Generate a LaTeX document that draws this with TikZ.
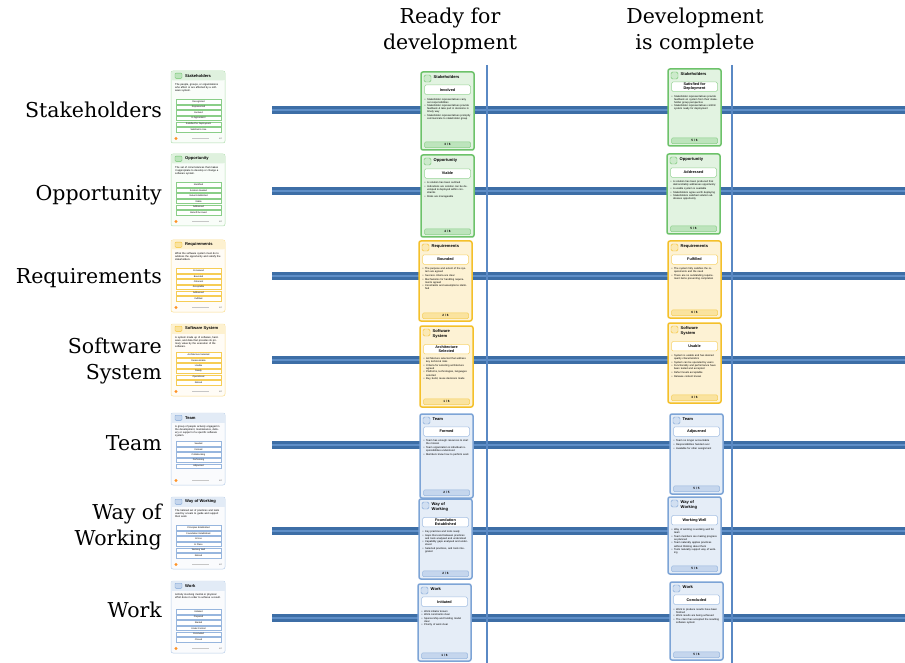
\documentclass[tikz,border=0pt]{standalone}
\usepackage{fontspec}
\setsansfont{Liberation Sans}
\newfontfamily\labelfont{DejaVu Serif}
\usetikzlibrary{positioning}

\definecolor{cgreen}{HTML}{6DC26A}
\definecolor{cyellow}{HTML}{F4C02A}
\definecolor{cblue}{HTML}{7DA4D6}
\definecolor{barblue}{HTML}{3D6EA6}
\definecolor{barlight}{HTML}{5F8FC8}
\definecolor{lineblue}{HTML}{5A89C4}

\newcommand{\bul}[1]{\par\hangindent=2.6pt\hangafter=1\makebox[2.6pt][l]{\textbullet}#1\par\vspace{0.5pt}}

\tikzset{
  rowlabel/.style={anchor=east, align=right, inner sep=0pt, font=\labelfont\fontsize{20.5}{26.5}\selectfont},
  colhead/.style={align=center, inner sep=0pt, font=\labelfont\fontsize{20.5}{26.5}\selectfont},
  bar/.style={draw=barblue, line width=8pt},
  barmid/.style={draw=barlight, line width=2.2pt},
  divider/.style={draw=lineblue, line width=1.3pt},
  cardtitle/.style={inner sep=0pt, align=left, font=\sffamily\bfseries\fontsize{4.1}{4.7}\selectfont},
  carddesc/.style={inner sep=0pt, align=left, text width=46pt, font=\sffamily\fontsize{2.6}{3.1}\selectfont},
  statebox/.style={inner sep=0pt, minimum width=45pt, minimum height=4.4pt, fill=white, line width=0.35pt, font=\sffamily\fontsize{2.3}{2.6}\selectfont},
  statename/.style={inner sep=0.8pt, minimum width=46pt, minimum height=9.5pt, fill=white, align=center, rounded corners=1.5pt, line width=0.5pt, font=\sffamily\bfseries\fontsize{3.8}{4.3}\selectfont},
  bullets/.style={inner sep=0pt, align=left, text width=46pt, font=\sffamily\fontsize{2.6}{3.1}\selectfont},
  progress/.style={inner sep=0pt, minimum width=46pt, minimum height=5.8pt, rounded corners=1.2pt, line width=0.5pt, font=\sffamily\bfseries\fontsize{3.1}{3.4}\selectfont},
  pageno/.style={inner sep=0pt, font=\sffamily\fontsize{1.8}{2}\selectfont}
}

% alpha card: name, x, y, colour, title, description, states
\newcommand{\alphacard}[7]{%
  \begin{scope}[shift={(#2,#3)}]
    \draw[draw=#4!55, fill=#4!4, rounded corners=2pt, line width=0.5pt] (0,0) rectangle (54,72);
    \fill[#4!22, rounded corners=2pt] (0.25,0.25) rectangle (53.75,9.5);
    \fill[#4!22] (0.25,5) rectangle (53.75,9.5);
    \draw[draw=#4, fill=#4!45, rounded corners=1pt, line width=0.4pt] (4,2.2) rectangle (11,7.4);
    \node[cardtitle, anchor=west] (#1-title) at (14,4.9) {#5};
    \node[carddesc, anchor=north west] (#1-desc) at (4,12) {#6};
    \foreach \s [count=\i] in {#7} {
      \node[statebox, draw=#4!80] (#1-s\i) at (27.5,25+5.6*\i) {\s};
    }
    \fill[orange!85] (5,67.5) circle (1.6);
    \draw[gray!45, line width=0.3pt] (21,67.5) -- (38,67.5);
    \node[pageno, anchor=east] (#1-page) at (51,67.5) {1/7};
  \end{scope}}

% state card: name, x, y, height, colour, alpha, state, bullets, progress
\newcommand{\statecard}[9]{%
  \begin{scope}[shift={(#2,#3)}]
    \draw[draw=#5, fill=#5!20, rounded corners=2pt, line width=1.5pt] (0,0) rectangle (53,#4);
    \draw[draw=#5, fill=#5!35, rounded corners=1.5pt, line width=0.4pt] (3,3) rectangle (10,10);
    \node[cardtitle, anchor=north west] (#1-title) at (12.5,3.8) {#6};
    \coordinate (#1-mid) at (26.5,0);
    \node[statename, draw=#5!70, anchor=north] (#1-state) at ([yshift=-5.5pt]#1-title.south -| #1-mid) {#7};
    \node[bullets, anchor=north] (#1-list) at ([yshift=-2pt]#1-state.south) {#8};
    \node[progress, draw=#5!80, fill=#5!45] (#1-prog) at (26.5,#4-5.2) {#9};
  \end{scope}}

\begin{document}
\begin{tikzpicture}[x=1pt,y=-1pt]
  \useasboundingbox (0,0) rectangle (905,663);

  % column heads
  \node[colhead] (hd-ready) at (450,31) {Ready for\\development};
  \node[colhead] (hd-done) at (695,31) {Development\\is complete};

  % timelines
  \foreach \y in {110,191,276,360,445,531,618} {
    \draw[bar] (272,\y) -- (905,\y);
    \draw[barmid] (272,\y) -- (905,\y);
  }
  \draw[divider] (487,65) -- (487,663);
  \draw[divider] (732,65) -- (732,663);

  % row labels
  \node[rowlabel] (lab-stk) at (162,110) {Stakeholders};
  \node[rowlabel] (lab-opp) at (162,195) {Opportunity};
  \node[rowlabel] (lab-req) at (162,278) {Requirements};
  \node[rowlabel] (lab-sys) at (162,361) {Software\\System};
  \node[rowlabel] (lab-team) at (162,443) {Team};
  \node[rowlabel] (lab-wow) at (162,527) {Way of\\Working};
  \node[rowlabel] (lab-work) at (162,610) {Work};

  % alpha cards
  \alphacard{a-stk}{171}{71}{cgreen}{Stakeholders}
    {The people, groups, or organizations who affect or are affected by a software system.}
    {Recognized,Represented,Involved,In Agreement,Satisfied for Deployment,Satisfied in Use}
  \alphacard{a-opp}{171}{154}{cgreen}{Opportunity}
    {The set of circumstances that makes it appropriate to develop or change a software system.}
    {Identified,Solution Needed,Value Established,Viable,Addressed,Benefit Accrued}
  \alphacard{a-req}{171}{240}{cyellow}{Requirements}
    {What the software system must do to address the opportunity and satisfy the stakeholders.}
    {Conceived,Bounded,Coherent,Acceptable,Addressed,Fulfilled}
  \alphacard{a-sys}{171}{324}{cyellow}{Software System}
    {A system made up of software, hardware, and data that provides its primary value by the execution of the software.}
    {Architecture Selected,Demonstrable,Usable,Ready,Operational,Retired}
  \alphacard{a-team}{171}{413}{cblue}{Team}
    {A group of people actively engaged in the development, maintenance, delivery or support of a specific software system.}
    {Seeded,Formed,Collaborating,Performing,Adjourned}
  \alphacard{a-wow}{171}{497}{cblue}{Way of Working}
    {The tailored set of practices and tools used by a team to guide and support their work.}
    {Principles Established,Foundation Established,In Use,In Place,Working Well,Retired}
  \alphacard{a-work}{171}{581}{cblue}{Work}
    {Activity involving mental or physical effort done in order to achieve a result.}
    {Initiated,Prepared,Started,Under Control,Concluded,Closed}

  % ready for development
  \statecard{r-stk}{421}{72}{78}{cgreen}{Stakeholders}{Involved}
    {\bul{Stakeholder representatives carry out responsibilities}\bul{Stakeholder representatives provide feedback \& take part in decisions in timely way}\bul{Stakeholder representatives promptly communicate to stakeholder group}}{3 / 6}
  \statecard{r-opp}{421}{155}{82}{cgreen}{Opportunity}{Viable}
    {\bul{A solution has been outlined}\bul{Indications are solution can be developed \& deployed within constraints}\bul{Risks are manageable}}{4 / 6}
  \statecard{r-req}{419}{241}{80}{cyellow}{Requirements}{Bounded}
    {\bul{The purpose and extent of the system are agreed}\bul{Success criteria are clear}\bul{Mechanisms for handling requirements agreed}\bul{Constraints and assumptions identified}}{2 / 6}
  \statecard{r-sys}{420}{326}{81}{cyellow}{Software\\System}{Architecture\\Selected}
    {\bul{Architecture selected that address key technical risks}\bul{Criteria for selecting architecture agreed}\bul{Platforms, technologies, languages selected}\bul{Buy, build, reuse decisions made}}{1 / 6}
  \statecard{r-team}{420}{414}{84}{cblue}{Team}{Formed}
    {\bul{Team has enough resources to start the mission}\bul{Team organization \& individual responsibilities understood}\bul{Members know how to perform work}}{2 / 5}
  \statecard{r-wow}{419}{499}{80}{cblue}{Way of\\Working}{Foundation\\Established}
    {\bul{Key practices and tools ready}\bul{Gaps that exist between practices and tools analysed and understood}\bul{Capability gaps analysed and understood}\bul{Selected practices, and tools integrated}}{2 / 6}
  \statecard{r-work}{418}{584}{77}{cblue}{Work}{Initiated}
    {\bul{Work initiator known}\bul{Work constraints clear}\bul{Sponsorship and funding model clear}\bul{Priority of work clear}}{1 / 6}

  % development is complete
  \statecard{d-stk}{668}{69}{77}{cgreen}{Stakeholders}{Satisfied for\\Deployment}
    {\bul{Stakeholder representatives provide feedback on system from their stakeholder group perspective}\bul{Stakeholder representatives confirm system ready for deployment}}{5 / 6}
  \statecard{d-opp}{667}{154}{80}{cgreen}{Opportunity}{Addressed}
    {\bul{A solution has been produced that demonstrably addresses opportunity}\bul{A usable system is available}\bul{Stakeholders agree worth deploying}\bul{Stakeholders satisfied solution addresses opportunity}}{5 / 6}
  \statecard{d-req}{668}{241}{77}{cyellow}{Requirements}{Fulfilled}
    {\bul{The system fully satisfies the requirements and the need}\bul{There are no outstanding requirement items preventing completion}}{6 / 6}
  \statecard{d-sys}{668}{323}{80}{cyellow}{Software\\System}{Usable}
    {\bul{System is usable and has desired quality characteristics}\bul{System can be operated by users}\bul{Functionality and performance have been tested and accepted}\bul{Defect levels acceptable}\bul{Release content known}}{3 / 6}
  \statecard{d-team}{670}{414}{80}{cblue}{Team}{Adjourned}
    {\bul{Team no longer accountable}\bul{Responsibilities handed over}\bul{Available for other assignment}}{5 / 5}
  \statecard{d-wow}{668}{497}{77}{cblue}{Way of\\Working}{Working Well}
    {\bul{Way of working is working well for team}\bul{Team members are making progress as planned}\bul{Team naturally applies practices without thinking about them}\bul{Tools naturally support way of working}}{5 / 6}
  \statecard{d-work}{670}{582}{78}{cblue}{Work}{Concluded}
    {\bul{Work to produce results have been finished}\bul{Work results are being achieved}\bul{The client has accepted the resulting software system}}{5 / 6}
\end{tikzpicture}
\end{document}
